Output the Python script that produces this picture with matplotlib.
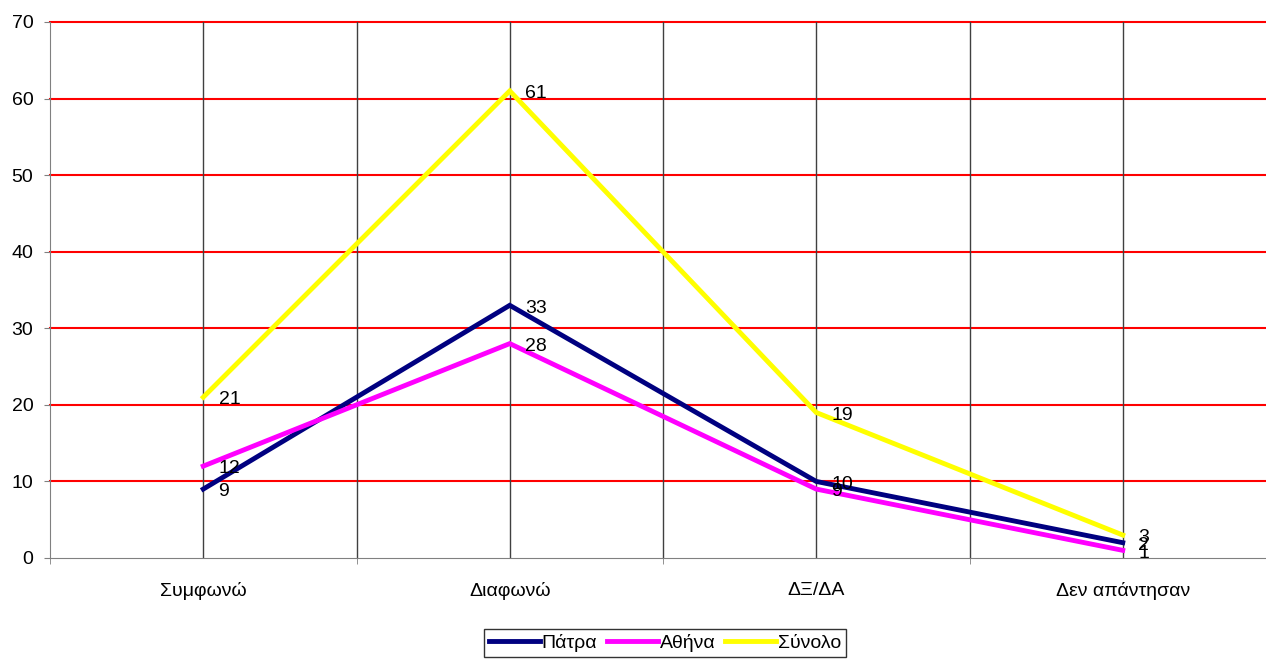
import matplotlib.pyplot as plt
import numpy as np

plt.rcParams['font.family'] = ['Liberation Sans', 'DejaVu Sans']

categories = ['Συμφωνώ', 'Διαφωνώ', 'ΔΞ/ΔΑ', 'Δεν απάντησαν']
patra = [9, 33, 10, 2]
athina = [12, 28, 9, 1]
synolo = [21, 61, 19, 3]

series = [('Πάτρα', patra, '#000080'),
          ('Αθήνα', athina, '#FF00FF'),
          ('Σύνολο', synolo, '#FFFF00')]

fig = plt.figure(figsize=(12.66, 6.61), dpi=100)
ax = fig.add_axes([50 / 1266, 103 / 661, 1226 / 1266, 536 / 661])

x = np.arange(len(categories))
for name, vals, col in series:
    ax.plot(x, vals, color=col, lw=3.5, label=name, solid_joinstyle='miter')

# data labels to the right of each point
for name, vals, col in series:
    for xi, v in zip(x, vals):
        ax.annotate(str(v), (xi, v), xytext=(11, -2), textcoords='offset points',
                    va='center', ha='left', fontsize=14)

ax.set_xlim(-0.5, 3.5)
ax.set_ylim(0, 70)
ax.set_yticks(range(0, 71, 10))
ax.set_xticks(x)
ax.set_xticklabels(categories)
ax.set_xticks(np.arange(-0.5, 3.6, 1), minor=True)

for y in range(10, 71, 10):
    ax.axhline(y, color='#FF0000', lw=1.5, zorder=0, clip_on=False)
for xv in np.arange(0, 3.6, 0.5):
    ax.axvline(xv, color='#404040', lw=1, zorder=0)

for s in ['top', 'right']:
    ax.spines[s].set_visible(False)
ax.spines['left'].set_color('#808080')
ax.spines['bottom'].set_color('#808080')
ax.tick_params(axis='y', length=4, color='#808080', labelsize=14, pad=8)
ax.tick_params(axis='x', which='major', length=0, labelsize=14, pad=17)
ax.tick_params(axis='x', which='minor', length=4, color='#808080')

leg = fig.legend(loc='center', bbox_to_anchor=(665 / 1266, 1 - 643 / 661),
                 ncol=3, fontsize=14, frameon=True, fancybox=False,
                 edgecolor='#000000', handlelength=2.6, handletextpad=0.1,
                 columnspacing=0.5, borderpad=0.25)
leg.get_frame().set_linewidth(1)

fig.savefig('out.png', dpi=100)
